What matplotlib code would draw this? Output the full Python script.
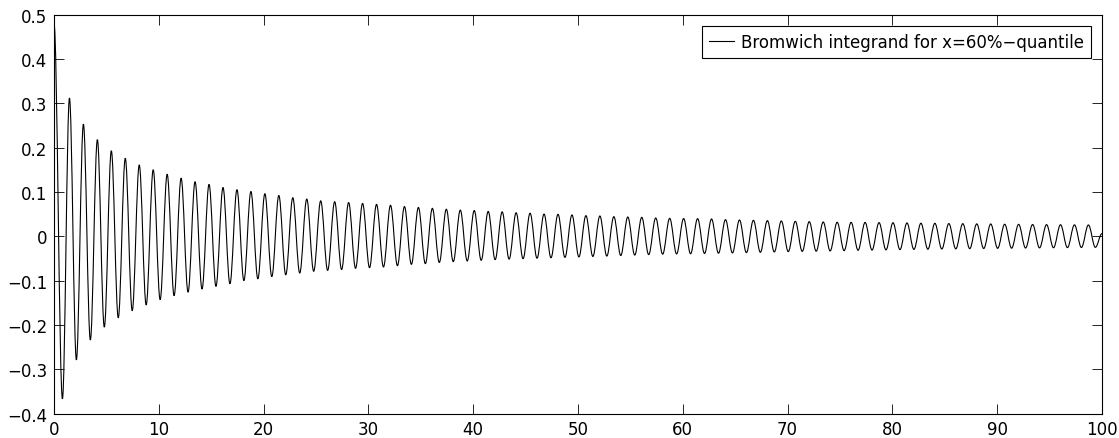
import matplotlib
matplotlib.use("Agg")
import matplotlib.pyplot as plt
import numpy as np
from matplotlib.path import Path
from matplotlib.patches import PathPatch
from matplotlib.lines import Line2D

plt.rcParams['font.family'] = ['DejaVu Sans']

# ---- data ----
start_point = (0.0, 0.48)
end_point = (100.0, 0.006)

# x positions of extrema: evenly spaced with period ~1.332
period = 1.332
first_trough_x = 0.80
first_peak_x = 1.47

peak_values = [
    0.312, 0.253, 0.218, 0.193, 0.176, 0.161, 0.150, 0.140,
    0.131, 0.123, 0.117, 0.110, 0.105, 0.101, 0.096, 0.092, 0.087, 0.084, 0.080, 0.078,
    0.076, 0.074, 0.072, 0.070, 0.067, 0.065, 0.063, 0.061, 0.059, 0.058, 0.056, 0.055,
    0.053, 0.052, 0.050, 0.0495, 0.048, 0.0465, 0.0457, 0.0442, 0.0435, 0.0427, 0.0412, 0.0405, 0.040,
    0.0397, 0.039, 0.0375, 0.0367, 0.036, 0.0352, 0.0345, 0.0337, 0.033, 0.0322, 0.0316,
    0.0314, 0.0312, 0.0307, 0.0305, 0.030, 0.0294, 0.0292, 0.0286, 0.0284, 0.0279, 0.0277, 0.0271, 0.0269,
    0.0265, 0.0262, 0.026, 0.0257, 0.0255,
]
trough_values = [
    -0.367, -0.279, -0.234, -0.205, -0.184, -0.168, -0.155, -0.143,
    -0.134, -0.126, -0.119, -0.113, -0.107, -0.100, -0.096, -0.091, -0.087, -0.083, -0.079, -0.077, -0.075,
    -0.0723, -0.0708, -0.0693, -0.0663, -0.0633, -0.0617, -0.0590, -0.0572, -0.0557, -0.0542, -0.0527, -0.0515,
    -0.0505, -0.0495, -0.0485, -0.0476, -0.0466, -0.0456, -0.0446, -0.0434, -0.0424, -0.0414, -0.0404, -0.0398,
    -0.0394, -0.0388, -0.0382, -0.0376, -0.0369, -0.0361, -0.0354, -0.0346, -0.0341, -0.0337, -0.0331, -0.0324,
    -0.0316, -0.0311, -0.0307, -0.0301, -0.0296, -0.0292, -0.0287, -0.0284, -0.0279, -0.0276, -0.0272, -0.0269, -0.0265,
    -0.0262, -0.0259, -0.0256, -0.0253, -0.0250,
]

x_ticks = [0, 10, 20, 30, 40, 50, 60, 70, 80, 90, 100]
x_tick_labels = ['0', '10', '20', '30', '40', '50', '60', '70', '80', '90', '100']
y_ticks = [-0.4, -0.3, -0.2, -0.1, 0.0, 0.1, 0.2, 0.3, 0.4, 0.5]
y_tick_labels = ['\u22120.4', '\u22120.3', '\u22120.2', '\u22120.1', '0', '0.1', '0.2', '0.3', '0.4', '0.5']
legend_label = 'Bromwich integrand for x=60%\u2212quantile'

# ---- build the smooth curve through the extrema ----
peak_x = first_peak_x + period * np.arange(len(peak_values))
trough_x = first_trough_x + period * np.arange(len(trough_values))
ext_x = np.concatenate([peak_x, trough_x])
ext_y = np.concatenate([peak_values, trough_values])
order = np.argsort(ext_x)
pts_x = np.concatenate([[start_point[0]], ext_x[order], [end_point[0]]])
pts_y = np.concatenate([[start_point[1]], ext_y[order], [end_point[1]]])

c = 1 - 2 / np.pi
verts = [(pts_x[0], pts_y[0])]
codes = [Path.MOVETO]
for i in range(len(pts_x) - 1):
    x0, y0, x1, y1 = pts_x[i], pts_y[i], pts_x[i + 1], pts_y[i + 1]
    h = x1 - x0
    verts += [(x0 + c * h, y0), (x1 - c * h, y1), (x1, y1)]
    codes += [Path.CURVE4] * 3

fig = plt.figure(figsize=(11.19, 4.39), dpi=100)
ax = fig.add_axes([0.0483, 0.0558, 0.9365, 0.9084])
patch = PathPatch(Path(verts, codes), facecolor='none', edgecolor='black', lw=0.8)
ax.add_patch(patch)

ax.set_xlim(0, 100)
ax.set_ylim(-0.4, 0.5)
ax.set_xticks(x_ticks)
ax.set_xticklabels(x_tick_labels)
ax.set_yticks(y_ticks)
ax.set_yticklabels(y_tick_labels)
ax.tick_params(direction='in', length=7, width=0.6, top=True, right=True,
               labelsize=12, pad=5, colors='black')
for s in ax.spines.values():
    s.set_linewidth(0.8)
    s.set_color('black')

handle = Line2D([], [], color='black', lw=0.8)
leg = ax.legend([handle], [legend_label], loc='upper right', fontsize=12,
                fancybox=False, framealpha=1, edgecolor='black',
                borderaxespad=0.65, borderpad=0.42, handlelength=1.5,
                handletextpad=0.4)
leg.get_frame().set_linewidth(0.8)

fig.savefig('out.png', dpi=100)
